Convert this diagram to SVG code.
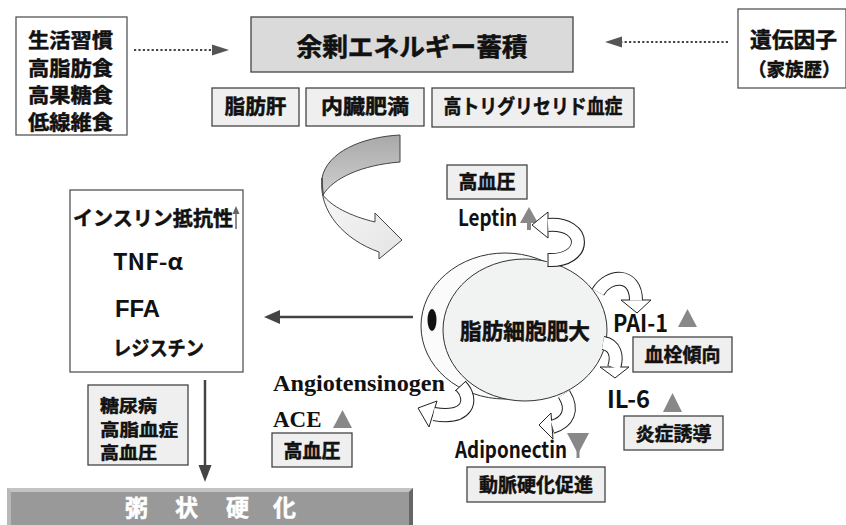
<svg xmlns="http://www.w3.org/2000/svg" width="846" height="525" viewBox="0 0 846 525">
<style>
.jp{font-family:"Noto Sans CJK JP","Noto Sans",sans-serif;font-weight:bold;fill:#111;stroke:#111;stroke-width:0.5}
.lat{font-family:"Noto Sans CJK JP","Liberation Sans",sans-serif;font-weight:bold;fill:#111}
.ser{font-family:"Liberation Serif",serif;font-weight:bold;fill:#111}
.box{fill:#fff;stroke:#555;stroke-width:1.3}
.gbox{fill:#efefef;stroke:#444;stroke-width:1.3}
.tri{fill:#888}
.bo{fill:none;stroke:#222;stroke-width:14}
.bi{fill:none;stroke:#fff;stroke-width:12}
.head{fill:#fff;stroke:#222;stroke-width:1}
.dot{stroke:#444;stroke-width:2.2;stroke-dasharray:2.2 2.2;fill:none}
</style>
<defs>
<linearGradient id="g1" x1="0" y1="0" x2="0" y2="1">
<stop offset="0" stop-color="#a8a8a8"/><stop offset="1" stop-color="#d0d0d0"/>
</linearGradient>
<linearGradient id="g2" x1="0" y1="0" x2="1" y2="1">
<stop offset="0" stop-color="#f8f8f8"/><stop offset="1" stop-color="#e4e4e4"/>
</linearGradient>
</defs>
<rect width="846" height="525" fill="#fff"/>

<g id="connectors">
<line class="dot" x1="134" y1="50" x2="212" y2="50"/>
<polygon points="212,44.5 229,50 212,55.5" fill="#555"/>
<line class="dot" x1="728" y1="42" x2="622" y2="42"/>
<polygon points="622,36.5 605,42 622,47.5" fill="#555"/>
<path d="M400,135 C362,137 327,152 322,178 L323,195 C333,178 362,165 400,162 Z" fill="url(#g1)" stroke="#444" stroke-width="1"/>
<path d="M322,178 C318,212 345,240 379,252 L379,259 L402,240 L375,213 L375,222 C350,216 331,206 323,195 Z" fill="url(#g2)" stroke="#444" stroke-width="1"/>
<line x1="413" y1="317" x2="278" y2="317" stroke="#444" stroke-width="2.5"/>
<polygon points="280,310 264,317 280,324" fill="#444"/>
<line x1="205" y1="380" x2="205" y2="466" stroke="#444" stroke-width="2.5"/>
<polygon points="198.5,465 211.5,465 205,482" fill="#444"/>
</g>

<g id="n-lifestyle">
<rect class="box" x="16" y="17" width="111" height="118"/>
<text class="jp" font-size="20">
<tspan x="28" y="48" textLength="85" lengthAdjust="spacingAndGlyphs">生活習慣</tspan>
<tspan x="28" y="76" textLength="85" lengthAdjust="spacingAndGlyphs">高脂肪食</tspan>
<tspan x="28" y="103" textLength="85" lengthAdjust="spacingAndGlyphs">高果糖食</tspan>
<tspan x="28" y="130" textLength="85" lengthAdjust="spacingAndGlyphs">低線維食</tspan>
</text>
</g>

<g id="n-excess">
<rect x="251" y="17" width="322" height="55" fill="#dadada" stroke="#444" stroke-width="1.3"/>
<text class="jp" x="412" y="56" font-size="25" text-anchor="middle" textLength="231" lengthAdjust="spacingAndGlyphs">余剰エネルギー蓄積</text>
</g>

<g id="n-genetic">
<rect class="box" x="738" y="9" width="108" height="79"/>
<text class="jp" x="750" y="47" font-size="21" textLength="87" lengthAdjust="spacingAndGlyphs">遺伝因子</text>
<text class="jp" x="748" y="76" font-size="18.5">（家族歴）</text>
</g>

<g id="n-fattyliver">
<rect class="gbox" x="212" y="88" width="87" height="38"/>
<text class="jp" x="255.5" y="114" font-size="20" text-anchor="middle" textLength="62" lengthAdjust="spacingAndGlyphs">脂肪肝</text>
</g>
<g id="n-visceral">
<rect class="gbox" x="306" y="88" width="118" height="38"/>
<text class="jp" x="365" y="114" font-size="20" text-anchor="middle" textLength="88" lengthAdjust="spacingAndGlyphs">内臓肥満</text>
</g>
<g id="n-tg">
<rect class="gbox" x="432" y="88" width="202" height="39"/>
<text class="jp" x="533" y="114" font-size="20" text-anchor="middle" textLength="179" lengthAdjust="spacingAndGlyphs">高トリグリセリド血症</text>
</g>

<g id="n-insulin">
<rect class="box" x="70" y="190" width="173" height="182"/>
<text class="jp" x="73" y="226" font-size="20" textLength="160" lengthAdjust="spacingAndGlyphs">インスリン抵抗性</text>
<line x1="236" y1="212" x2="236" y2="229" stroke="#666" stroke-width="1.5"/>
<polygon points="232.5,214 236,206 239.5,214" fill="#666"/>
<text class="lat" x="113" y="270" font-size="22" font-weight="500" textLength="70" lengthAdjust="spacingAndGlyphs">TNF-α</text>
<text x="115" y="317" font-size="24" font-weight="bold" fill="#111" font-family="Liberation Sans,sans-serif" textLength="45" lengthAdjust="spacingAndGlyphs">FFA</text>
<text class="jp" x="113" y="356" font-size="20" textLength="91" lengthAdjust="spacingAndGlyphs">レジスチン</text>
</g>

<g id="n-disease">
<rect class="gbox" x="88" y="385" width="100" height="80"/>
<text class="jp" font-size="17">
<tspan x="100" y="412" textLength="57" lengthAdjust="spacingAndGlyphs">糖尿病</tspan>
<tspan x="100" y="436" textLength="78" lengthAdjust="spacingAndGlyphs">高脂血症</tspan>
<tspan x="100" y="459" textLength="57" lengthAdjust="spacingAndGlyphs">高血圧</tspan>
</text>
</g>

<g id="n-athero">
<rect x="7" y="488" width="406" height="37" fill="#999"/>
<polygon points="7,488 413,488 409,492 11,492" fill="#c4c4c4"/>
<polygon points="7,488 11,492 11,525 7,525" fill="#b8b8b8"/>
<polygon points="413,488 413,525 409,525 409,492" fill="#666"/>
<text font-size="23" font-family="Noto Sans CJK JP,sans-serif" font-weight="bold" fill="#fff" stroke="#fff" stroke-width="0.5"><tspan x="125" y="516">粥</tspan><tspan x="175" y="516">状</tspan><tspan x="226" y="516">硬</tspan><tspan x="273" y="516">化</tspan></text>
</g>

<g id="n-cell">
<ellipse cx="505" cy="326" rx="84" ry="73" fill="#fbfbfb" stroke="#333" stroke-width="1"/>
<ellipse cx="525" cy="330" rx="82" ry="71" fill="#f1f2f2" stroke="#333" stroke-width="1"/>
<ellipse cx="432" cy="320" rx="4.5" ry="11" fill="#111"/>
<text class="jp" x="525" y="339" font-size="22" text-anchor="middle" textLength="130" lengthAdjust="spacingAndGlyphs">脂肪細胞肥大</text>
</g>

<g id="n-leptin">
<rect class="gbox" x="447" y="165" width="80" height="34"/>
<text class="jp" x="487" y="189" font-size="19" text-anchor="middle" textLength="57" lengthAdjust="spacingAndGlyphs">高血圧</text>
<text class="lat" x="458" y="226" font-size="22" textLength="59" lengthAdjust="spacingAndGlyphs">Leptin</text>
<polygon class="tri" points="520,223 529,207 538,223"/>
<rect class="tri" x="527" y="222" width="4" height="8"/>
<path class="bo" d="M548,260 C588,262 588,222 548,225"/>
<polygon class="head" points="532,225 548,212 548,238"/>
<path class="bi" d="M547,260 C588,262 588,222 548,225"/>
<line x1="548" y1="253" x2="548" y2="267" stroke="#222" stroke-width="1"/>
</g>

<g id="n-pai">
<text class="lat" x="613" y="332" font-size="24" textLength="55" lengthAdjust="spacingAndGlyphs">PAI-1</text>
<polygon class="tri" points="678,327 687.5,309 697,327"/>
<rect class="gbox" x="633" y="337" width="99" height="35"/>
<text class="jp" x="682.5" y="362" font-size="19" text-anchor="middle" textLength="76" lengthAdjust="spacingAndGlyphs">血栓傾向</text>
<path class="bo" d="M598,292 C608,274 636,272 636,301"/>
<polygon class="head" points="621,300 651,300 637,313"/>
<path class="bi" d="M598,292 C608,274 636,272 636,300.5"/>
</g>

<g id="n-il6">
<text class="lat" x="607" y="408" font-size="24" textLength="43" lengthAdjust="spacingAndGlyphs">IL-6</text>
<polygon class="tri" points="663,412 672.5,393 682,412"/>
<rect class="gbox" x="624" y="416" width="99" height="34"/>
<text class="jp" x="673.5" y="441" font-size="19" text-anchor="middle" textLength="76" lengthAdjust="spacingAndGlyphs">炎症誘導</text>
<path class="bo" d="M603,343 C615,345 618,356 614,368"/>
<polygon class="head" points="600,367 629,367 615,378"/>
<path class="bi" d="M603,343 C615,345 618,356 614,367.5"/>
</g>

<g id="n-adipo">
<text class="lat" x="455" y="458" font-size="22" textLength="112" lengthAdjust="spacingAndGlyphs">Adiponectin</text>
<polygon class="tri" points="567,433 589,433 578,454"/>
<rect class="tri" x="576.5" y="450" width="3" height="8"/>
<rect class="gbox" x="467" y="467" width="138" height="35"/>
<text class="jp" x="536" y="492" font-size="19" text-anchor="middle" textLength="114" lengthAdjust="spacingAndGlyphs">動脈硬化促進</text>
<path class="bo" d="M564,394 C574,410 568,422 552,427"/>
<polygon class="head" points="551,413 553,439 539,425"/>
<path class="bi" d="M564,394 C574,410 568,422 552.5,426.8"/>
</g>

<g id="n-angio">
<text class="ser" x="273" y="391" font-size="23" textLength="172" lengthAdjust="spacingAndGlyphs">Angiotensinogen</text>
<text class="ser" x="273" y="427" font-size="23">ACE</text>
<polygon class="tri" points="333,428 342.5,410 352,428"/>
<rect class="gbox" x="272" y="433" width="80" height="34"/>
<text class="jp" x="312" y="458" font-size="19" text-anchor="middle" textLength="57" lengthAdjust="spacingAndGlyphs">高血圧</text>
<path class="bo" d="M461,386 C474,400 468,420 434,414"/>
<polygon class="head" points="437,401 429,427 418,408"/>
<path class="bi" d="M461,386 C474,400 468,420 433.5,414"/>
<line x1="455" y1="391" x2="466" y2="381" stroke="#222" stroke-width="1"/>
</g>
</svg>
